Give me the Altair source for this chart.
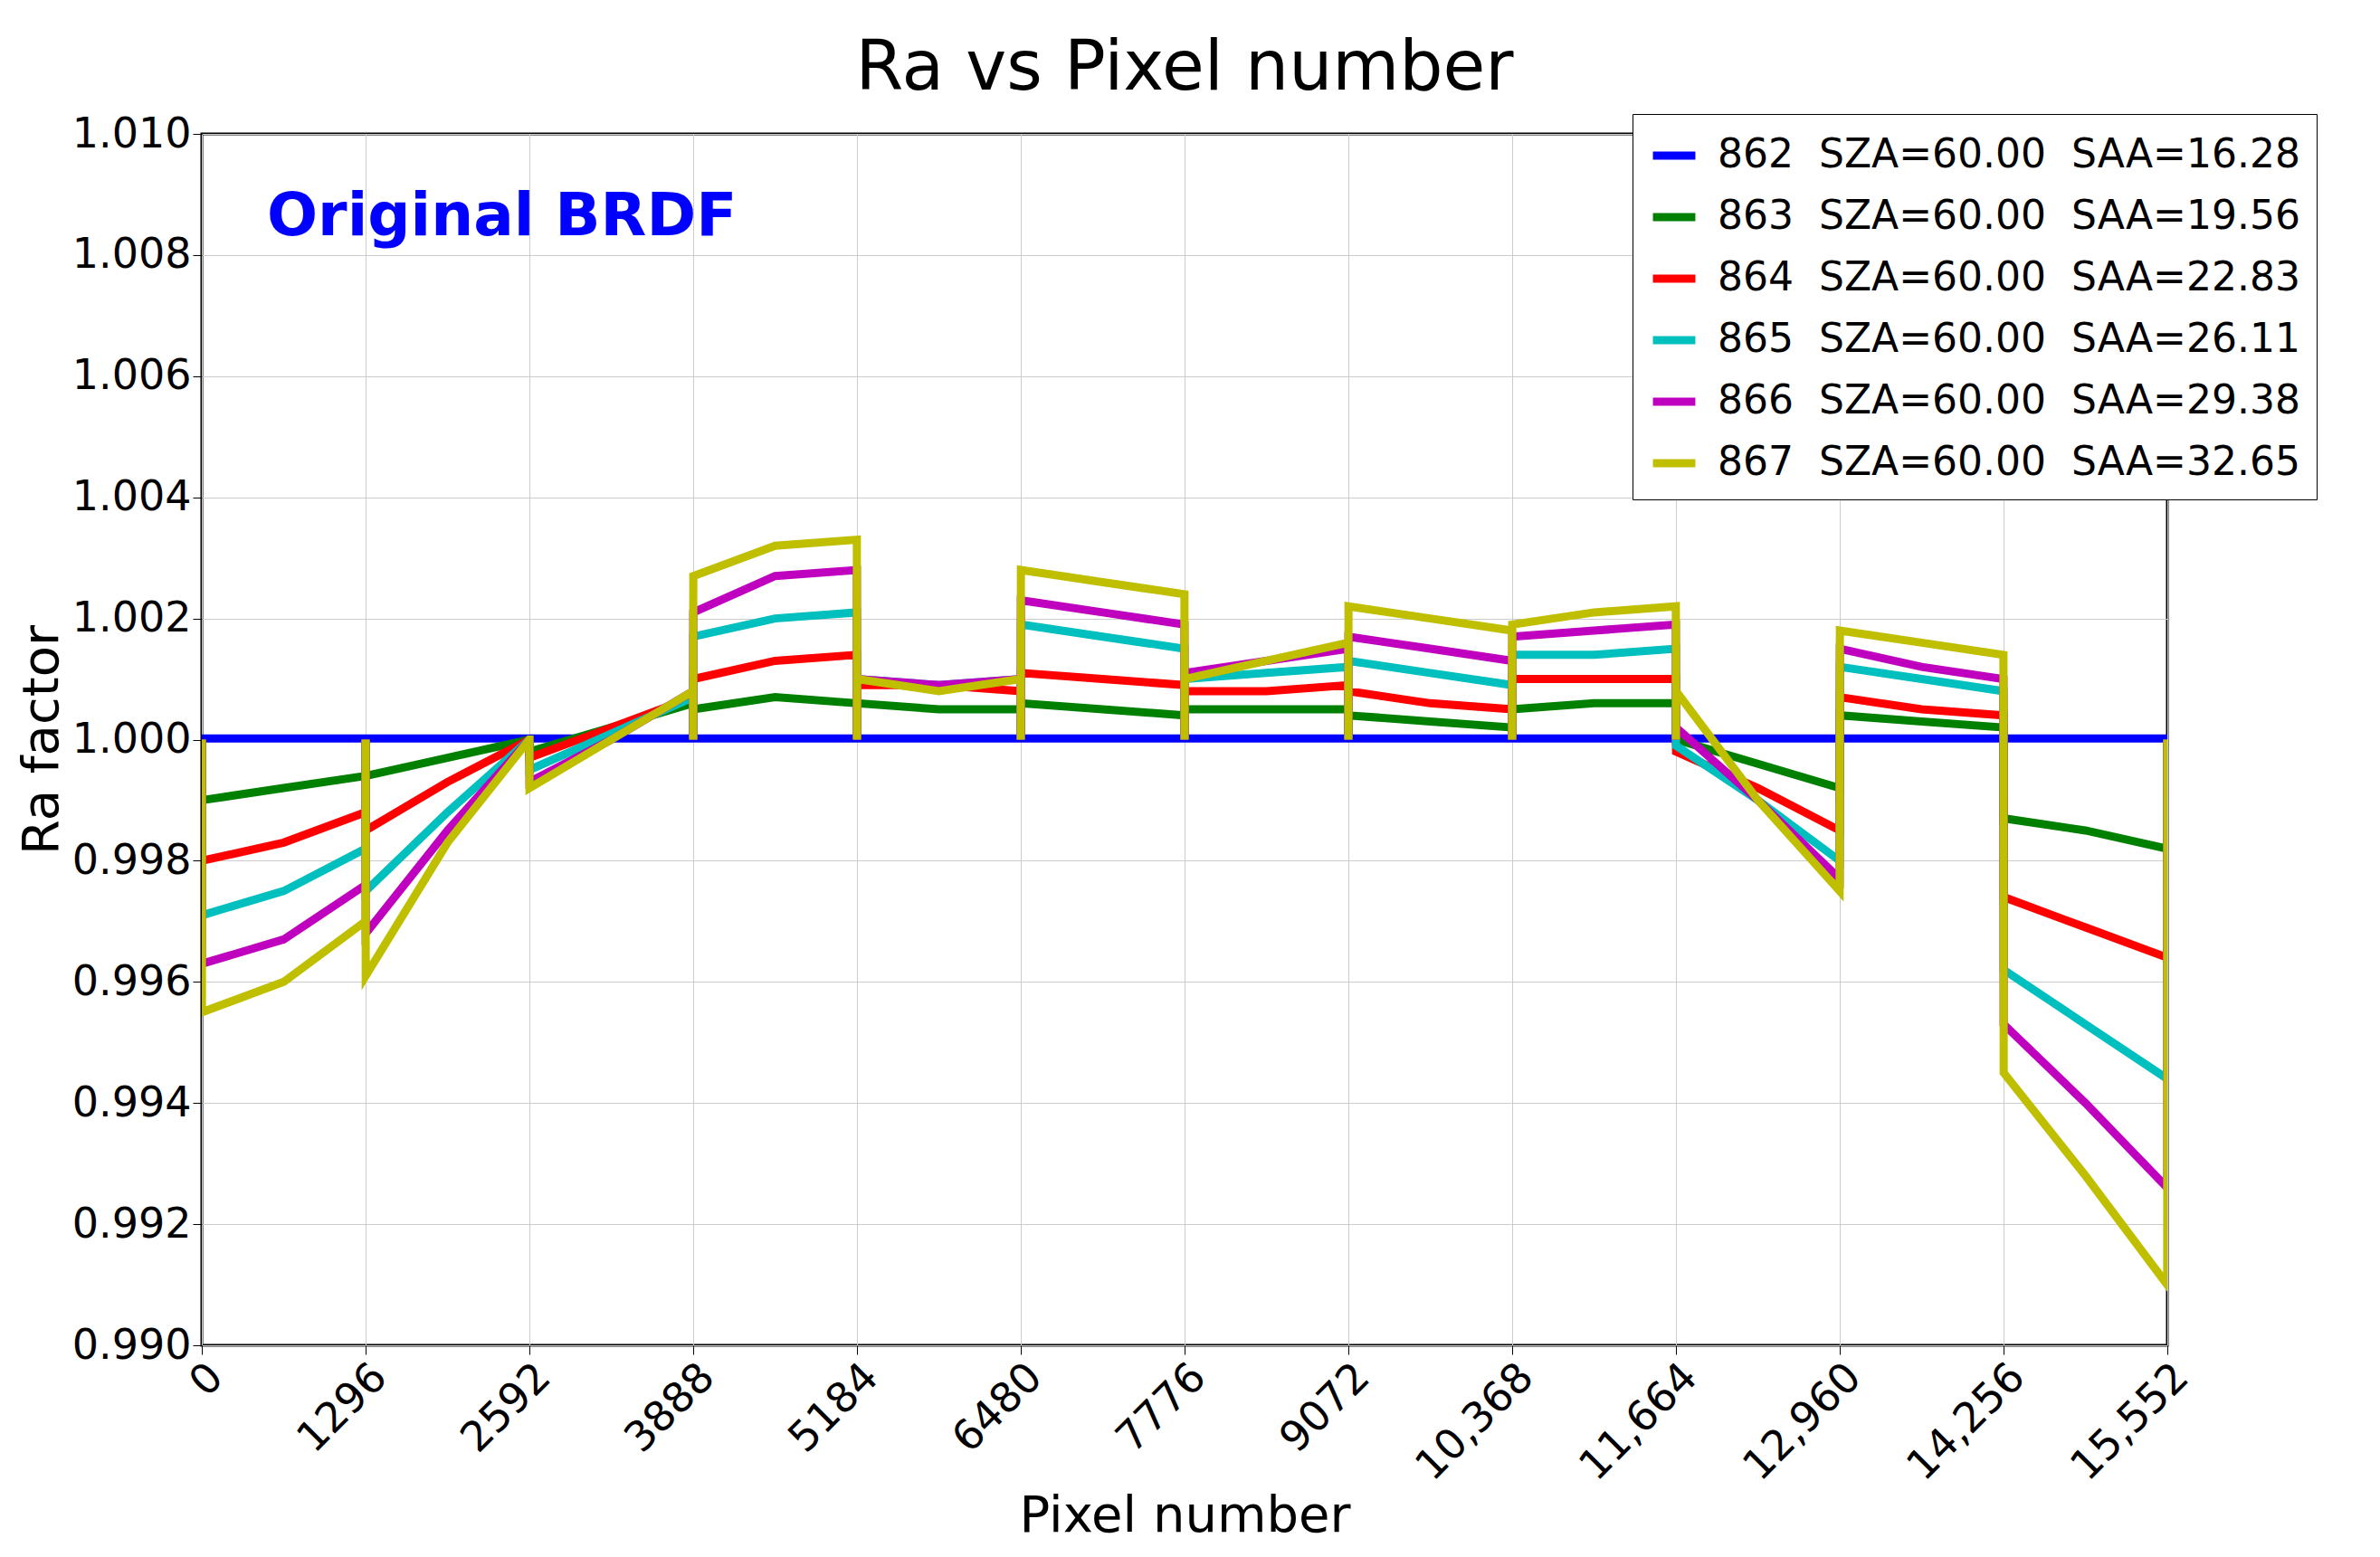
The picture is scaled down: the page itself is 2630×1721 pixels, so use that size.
import pandas as pd
import altair as alt

SEG = 1296
NB = "\u00a0\u00a0"
series_names = [f"862{NB}SZA=60.00{NB}SAA=16.28", f"863{NB}SZA=60.00{NB}SAA=19.56",
                f"864{NB}SZA=60.00{NB}SAA=22.83", f"865{NB}SZA=60.00{NB}SAA=26.11",
                f"866{NB}SZA=60.00{NB}SAA=29.38", f"867{NB}SZA=60.00{NB}SAA=32.65"]
colors = ["#0000ff", "#008000", "#ff0000", "#00bfbf", "#bf00bf", "#bfbf00"]

# (start, mid, end) of each of the 12 detector segments
s862 = [(1.00002, 1.00002, 1.00002)] * 12
s863 = [(0.9990, 0.9992, 0.9994), (0.9994, 0.9997, 1.0000), (0.9998, 1.0002, 1.0006),
        (1.0005, 1.0007, 1.0006), (1.0006, 1.0005, 1.0005), (1.0006, 1.0005, 1.0004),
        (1.0005, 1.0005, 1.0005), (1.0004, 1.0003, 1.0002), (1.0005, 1.0006, 1.0006),
        (1.0000, 0.9996, 0.9992), (1.0004, 1.0003, 1.0002), (0.9987, 0.9985, 0.9982)]
s864 = [(0.9980, 0.9983, 0.9988), (0.9985, 0.9993, 1.0000), (0.9997, 1.0002, 1.0007),
        (1.0010, 1.0013, 1.0014), (1.0009, 1.0009, 1.0008), (1.0011, 1.0010, 1.0009),
        (1.0008, 1.0008, 1.0009), (1.0008, 1.0006, 1.0005), (1.0010, 1.0010, 1.0010),
        (0.9998, 0.9992, 0.9985), (1.0007, 1.0005, 1.0004), (0.9974, 0.9969, 0.9964)]
s865 = [(0.9971, 0.9975, 0.9982), (0.9975, 0.9988, 1.0000), (0.9995, 1.0001, 1.0007),
        (1.0017, 1.0020, 1.0021), (1.0010, 1.0009, 1.0010), (1.0019, 1.0017, 1.0015),
        (1.0010, 1.0011, 1.0012), (1.0013, 1.0011, 1.0009), (1.0014, 1.0014, 1.0015),
        (0.9999, 0.9990, 0.9980), (1.0012, 1.0010, 1.0008), (0.9962, 0.9953, 0.9944)]
s866 = [(0.9963, 0.9967, 0.9976), (0.9968, 0.9985, 1.0000), (0.9993, 1.0000, 1.0008),
        (1.0021, 1.0027, 1.0028), (1.0010, 1.0009, 1.0010), (1.0023, 1.0021, 1.0019),
        (1.0011, 1.0013, 1.0015), (1.0017, 1.0015, 1.0013), (1.0017, 1.0018, 1.0019),
        (1.0002, 0.9990, 0.9977), (1.0015, 1.0012, 1.0010), (0.9953, 0.9940, 0.9926)]
s867 = [(0.9955, 0.9960, 0.9970), (0.9961, 0.9983, 1.0000), (0.9992, 1.0000, 1.0008),
        (1.0027, 1.0032, 1.0033), (1.0010, 1.0008, 1.0010), (1.0028, 1.0026, 1.0024),
        (1.0010, 1.0013, 1.0016), (1.0022, 1.0020, 1.0018), (1.0019, 1.0021, 1.0022),
        (1.0008, 0.9990, 0.9975), (1.0018, 1.0016, 1.0014), (0.9945, 0.9928, 0.9910)]
all_series = [s862, s863, s864, s865, s866, s867]

rows = []
for name, segs in zip(series_names, all_series):
    i = 0
    for k, (a, m, b) in enumerate(segs):
        x0 = k * SEG
        for x, v in [(x0, 1.0), (x0 + 1, a), (x0 + SEG / 2, m), (x0 + SEG - 1, b), (x0 + SEG, 1.0)]:
            if name.startswith("862"):
                v = 1.00002
            rows.append({"pixel": x, "ra": v, "series": name, "i": i})
            i += 1
df = pd.DataFrame(rows)

ticks = [SEG * k for k in range(13)]
FONT = "DejaVu Sans"

lines = alt.Chart(df).mark_line(strokeWidth=9, clip=True).encode(
    x=alt.X("pixel:Q", title="Pixel number", scale=alt.Scale(domain=[0, 15552], nice=False),
            axis=alt.Axis(values=ticks, labelAngle=-45, labelAlign="right", labelBaseline="top",
                          labelExpr="datum.value >= 10000 ? format(datum.value, ',') : '' + datum.value")),
    y=alt.Y("ra:Q", title="Ra factor", scale=alt.Scale(domain=[0.990, 1.010], nice=False),
            axis=alt.Axis(values=[0.990 + 0.002 * k for k in range(11)], format=".3f")),
    color=alt.Color("series:N", scale=alt.Scale(domain=series_names, range=colors),
                    legend=alt.Legend(title=None, orient="none", legendX=1581, legendY=-22,
                                      symbolType="stroke", symbolStrokeWidth=9, symbolSize=2200,
                                      labelFontSize=44, labelFont=FONT, rowPadding=18,
                                      strokeColor="black", fillColor="white", padding=18,
                                      labelLimit=1000, labelOffset=20)),
    order="i:Q",
)

label = alt.Chart(pd.DataFrame({"t": ["Original BRDF"]})).mark_text(
    color="#0000ff", fontSize=66, fontWeight="bold", font=FONT, align="left", baseline="middle"
).encode(x=alt.value(72), y=alt.value(92), text="t:N")

chart = (lines + label).properties(
    width=2172, height=1339,
    padding={"top": 30, "left": 10, "right": 10, "bottom": 10},
    title=alt.Title("Ra vs Pixel number", fontSize=76, font=FONT, fontWeight="normal", offset=10),
).configure_axis(
    labelFontSize=46, titleFontSize=56, labelFont=FONT, titleFont=FONT, titleFontWeight="normal",
    gridColor="#cccccc", domain=False, tickColor="black", tickSize=10, labelColor="black", titleColor="black",
).configure_view(stroke="black", strokeWidth=3)

chart.save("out.html", embed_options={"renderer": "svg", "actions": False})
